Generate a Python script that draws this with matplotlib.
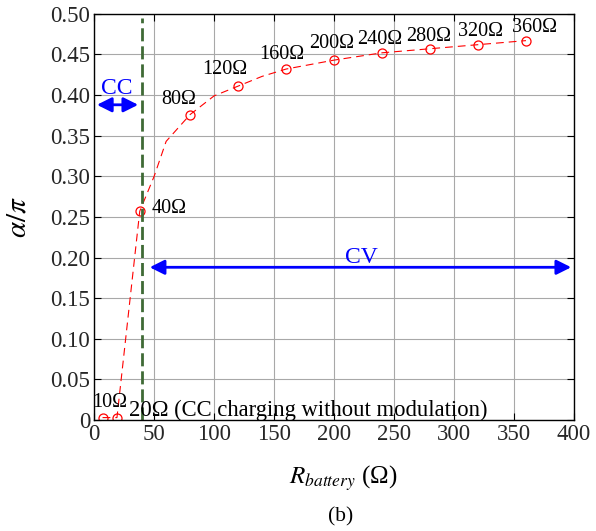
import numpy as np
import matplotlib.pyplot as plt

plt.rcParams['font.family'] = ['Liberation Serif', 'DejaVu Serif']
plt.rcParams['mathtext.fontset'] = 'stix'

# marked operating points
r_mark = [7, 19, 38, 80, 120, 160, 200, 240, 280, 320, 360]
a_mark = [0.003, 0.003, 0.257, 0.376, 0.411, 0.432, 0.443, 0.452, 0.457, 0.462, 0.467]
# dashed curve (marked points plus intermediate samples)
r_line = [7, 19, 38, 50, 60, 80, 100, 120, 140, 160, 200, 240, 280, 320, 360]
a_line = [0.003, 0.003, 0.257, 0.300, 0.343, 0.376, 0.399, 0.411, 0.423, 0.432, 0.443, 0.452, 0.457, 0.462, 0.467]

labels = ['10Ω', '20Ω (CC charging without modulation)', '40Ω', '80Ω', '120Ω', '160Ω',
          '200Ω', '240Ω', '280Ω', '320Ω', '360Ω']
label_x = [-1.5, 29, 47.5, 56, 90, 138, 179, 219, 260, 303, 348]
label_y = [0.016, 0.005, 0.255, 0.389, 0.426, 0.444, 0.458, 0.463, 0.467, 0.473, 0.478]
label_size = [14.5, 16.3, 14.5, 14.5, 14.5, 14.5, 14.5, 14.5, 14.5, 14.5, 14.5]

r_cc = 40          # CC/CV boundary
cc_level = 0.388
cv_level = 0.188

fig = plt.figure(figsize=(5.96, 5.31), dpi=100)
ax = fig.add_axes([0.158, 0.209, 0.805, 0.765])

ax.plot(r_line, a_line, color='r', linestyle=(0, (7, 4.5)), linewidth=0.8)
ax.plot(r_mark, a_mark, 'o', color='r', markerfacecolor='none', markersize=6.5, markeredgewidth=0.9)
ax.axvline(r_cc, ymin=0, ymax=0.99, color='#3f6a35', linestyle=(0, (4.7, 1.8)), linewidth=2)

for t, x, y, s in zip(labels, label_x, label_y, label_size):
    ax.text(x, y, t, fontsize=s, va='baseline', ha='left')

ax.annotate('', xy=(0, cc_level), xytext=(r_cc - 1, cc_level),
            arrowprops=dict(arrowstyle='<|-|>', color='b', lw=2, mutation_scale=22))
ax.text(19, 0.401, 'CC', color='b', fontsize=17, ha='center', va='baseline')
ax.annotate('', xy=(r_cc + 4, cv_level), xytext=(400, cv_level),
            arrowprops=dict(arrowstyle='<|-|>', color='b', lw=2, mutation_scale=22))
ax.text(222.5, 0.193, 'CV', color='b', fontsize=17, ha='center', va='baseline')

ax.set_xlim(0, 400)
ax.set_ylim(0, 0.5)
ax.set_xticks(np.arange(0, 401, 50))
ax.set_yticks(np.arange(0, 0.501, 0.05))
ax.set_yticklabels(['0'] + ['%.2f' % v for v in np.arange(0.05, 0.501, 0.05)])
ax.tick_params(direction='in', top=True, right=True, labelsize=16.5, length=5,
               labelcolor='#262626', pad=3)
ax.grid(True, color='#a8a8a8', linewidth=0.8)
for s in ax.spines.values():
    s.set_linewidth(1.0)

ax.set_xlabel(r'$R_{battery}$ (Ω)', fontsize=18)
ax.xaxis.set_label_coords(0.52, -0.106)
ax.set_ylabel(r'$\alpha/\pi$', fontsize=21)
ax.yaxis.set_label_coords(-0.13, 0.5)
fig.text(0.572, 0.026, '(b)', fontsize=15.5, ha='center', va='center')

fig.savefig('out.png', dpi=100)
